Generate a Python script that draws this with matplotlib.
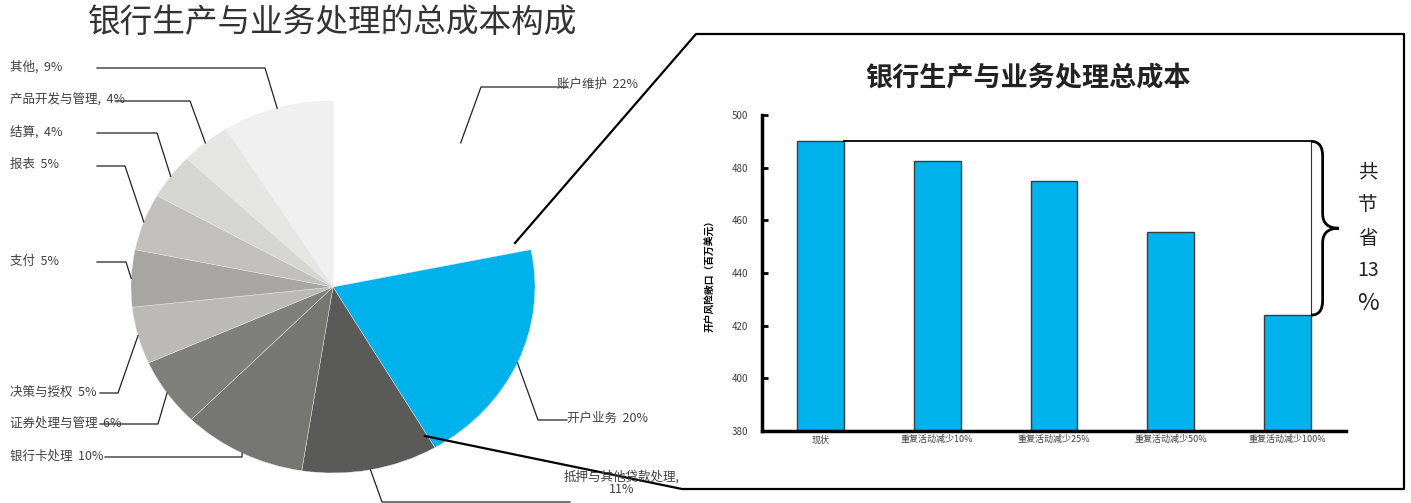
import numpy as np
import matplotlib.pyplot as plt
from matplotlib.path import Path
from matplotlib.patches import PathPatch

plt.rcParams['font.family'] = ['Noto Sans CJK SC', 'DejaVu Sans']
plt.rcParams['axes.unicode_minus'] = False

# 饼图数据（顺时针，从12点方向开始）
items = ['账户维护', '开户业务', '抵押与其他贷款处理', '银行卡处理', '证券处理与管理',
         '决策与授权', '支付', '报表', '结算', '产品开发与管理', '其他']
shares = [22, 20, 11, 10, 6, 5, 5, 5, 4, 4, 9]
pie_colors = ['#FFFFFF', '#00B2EC', '#5A5A58', '#767672', '#7F7F7B', '#BBBAB6',
              '#A7A6A3', '#C1C0BC', '#D5D5D2', '#E5E5E4', '#F0F0F0']
label_text = ['账户维护  22%', '开户业务  20%', '抵押与其他贷款处理,\n11%', '银行卡处理  10%',
              '证券处理与管理  6%', '决策与授权  5%', '支付  5%', '报表  5%', '结算,  4%',
              '产品开发与管理,  4%', '其他,  9%']

# 柱状图数据
cases = ['现状', '重复活动减少10%', '重复活动减少25%', '重复活动减少50%', '重复活动减少100%']
cost = [490, 482.5, 475, 455.5, 424]

W, H = 1411, 503
fig = plt.figure(figsize=(W / 100, H / 100), dpi=100)

def frac(x0, y0, x1, y1):
    # 像素框 -> figure 坐标
    return [x0 / W, 1 - y1 / H, (x1 - x0) / W, (y1 - y0) / H]

# ---- 饼图（椭圆） ----
axp = fig.add_axes(frac(131, 101, 535, 473))
wedges, _ = axp.pie(shares, colors=pie_colors, startangle=90, counterclock=False,
                    radius=1, wedgeprops=dict(edgecolor='#e8e8e8', linewidth=0.3))
wedges[0].set_edgecolor('none')   # 账户维护是白色块，不画边
axp.set_aspect('auto')
axp.set_xlim(-1, 1)
axp.set_ylim(-1, 1)
axp.axis('off')

# ---- 柱状图 ----
ax = fig.add_axes(frac(762, 115, 1346, 431))
x = np.arange(len(cases))
bw = 0.4
ax.bar(x, cost, width=bw, color='#00B2EC', edgecolor='#3c3c3c', linewidth=1.0, zorder=2)
ax.set_xlim(-0.5, len(cases) - 0.5)
ax.set_ylim(380, 500)
ax.set_yticks(range(380, 501, 20))
ax.set_xticks(x)
ax.set_xticklabels(cases, fontsize=6.5, color='#404040')
ax.tick_params(axis='y', direction='in', length=4, width=2, labelsize=7,
               labelcolor='#404040', pad=10)
ax.tick_params(axis='x', length=0, pad=3)
for s in ['top', 'right']:
    ax.spines[s].set_visible(False)
for s in ['left', 'bottom']:
    ax.spines[s].set_linewidth(2.5)
ax.set_ylabel('开户风险敞口（百万美元）', fontsize=7, fontweight='bold')
ax.yaxis.set_label_coords(-0.082, 0.5)
ax.patch.set_alpha(0)

# 节省幅度的参考线和大括号
xr = len(cases) - 1 + bw / 2
ax.plot([bw / 2, xr], [cost[0], cost[0]], color='black', lw=1.3, zorder=3, clip_on=False)
ax.plot([xr, xr], [cost[0], cost[-1]], color='#333333', lw=0.8, zorder=3, clip_on=False)
ytop, ybot = cost[0], cost[-1]
ymid = (ytop + ybot) / 2
xm, xt = xr + 0.10, xr + 0.24
d = 5.5
verts = [(xr, ytop), (xm, ytop), (xm, ytop - d),
         (xm, ymid + d), (xm, ymid), (xt, ymid),
         (xm, ymid), (xm, ymid - d),
         (xm, ybot + d), (xm, ybot), (xr, ybot)]
codes = [Path.MOVETO, Path.CURVE3, Path.CURVE3,
         Path.LINETO, Path.CURVE3, Path.CURVE3,
         Path.CURVE3, Path.CURVE3,
         Path.LINETO, Path.CURVE3, Path.CURVE3]
ax.add_patch(PathPatch(Path(verts, codes), fill=False, lw=2.0, color='black',
                       clip_on=False, zorder=4))

# ---- 覆盖层：标题、引线、框线 ----
ov = fig.add_axes([0, 0, 1, 1], zorder=5)
ov.set_xlim(0, W)
ov.set_ylim(H, 0)
ov.axis('off')

ov.text(333, 23, '银行生产与业务处理的总成本构成', fontsize=23.5, color='#333333',
        ha='center', va='center')
ov.text(1028, 78, '银行生产与业务处理总成本', fontsize=19.5, fontweight='bold',
        color='#222222', ha='center', va='center')

saving = int((cost[0] - cost[-1]) / cost[0] * 100)
for i, s in enumerate(['共', '节', '省', str(saving), '%']):
    ov.text(1368, 172 + i * 33, s, fontsize=17 if s == '%' else 14,
            color='#222222', ha='center', va='center')

# 引线布局: 文字位置, 对齐, 拐点, 水平线终点
label_pos = [(557, 84, 'left'), (567, 418, 'left'), (622, 483, 'center'), (10, 456, 'left'),
             (10, 423, 'left'), (10, 392, 'left'), (10, 261, 'left'), (10, 164, 'left'),
             (10, 132, 'left'), (10, 100, 'left'), (10, 67, 'left')]
elbows = [(481, 87), (538, 420), (382, 502), (242, 457), (158, 424), (118, 393),
          (126, 262), (125, 166), (157, 133), (190, 101), (265, 68)]
line_end = [567, 567, 570, 105, 100, 100, 97, 97, 97, 115, 97]

inv = ov.transData.inverted()
for w, (tx, ty, ha), (ex, ey), lx, txt in zip(wedges, label_pos, elbows, line_end, label_text):
    t = np.deg2rad((w.theta1 + w.theta2) / 2)
    ax0, ay0 = inv.transform(axp.transData.transform((np.cos(t), np.sin(t))))
    ov.plot([ax0, ex, lx], [ay0, ey, ey], color='#222222', lw=0.9)
    ov.text(tx, ty, txt, fontsize=9, color='#404040', ha=ha, va='center',
            linespacing=1.0)

# 放大框
box = [(515, 243), (696, 34), (1404, 34), (1404, 489), (682, 489), (425, 436)]
ov.plot([p[0] for p in box], [p[1] for p in box], color='black', lw=1.6)

fig.savefig('out.png', dpi=100)
